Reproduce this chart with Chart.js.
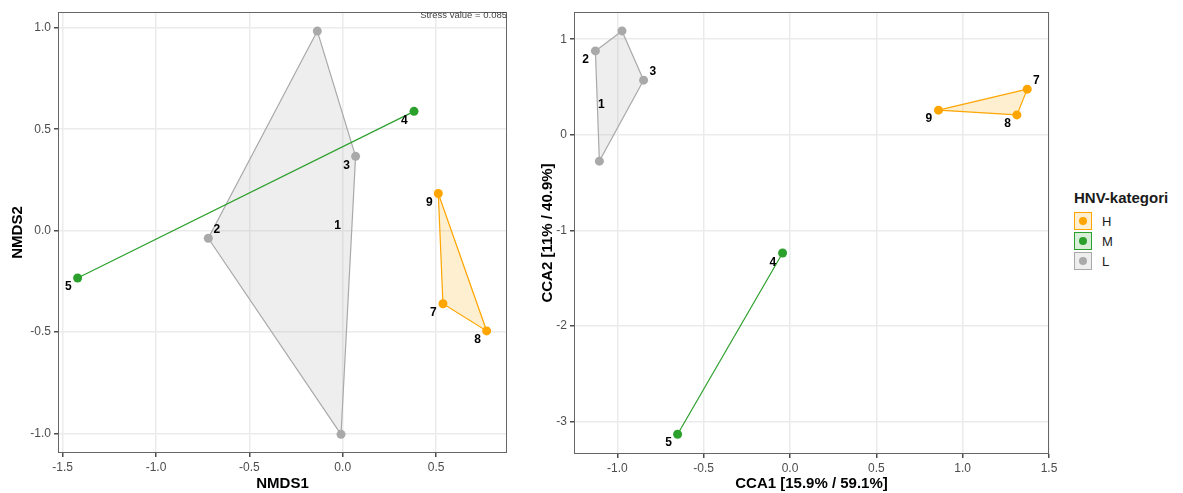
<!DOCTYPE html>
<html><head><meta charset="utf-8">
<script src="https://cdn.jsdelivr.net/npm/chart.js@4"></script>
<style>
body{margin:0;background:#fff;width:1183px;height:493px;overflow:hidden;font-family:"Liberation Sans",Arial,sans-serif;}
#c1wrap{position:absolute;left:0;top:0;width:540px;height:493px;}
#c2wrap{position:absolute;left:535px;top:0;width:530px;height:493px;}
#legend{position:absolute;left:1074px;top:189px;color:#1a1a1a;}
#legend .t{font-weight:bold;font-size:15px;margin-bottom:5px;white-space:nowrap;}
#legend .r{height:20px;display:flex;align-items:center;font-size:13px;}
#legend .k{width:16px;height:16px;border:1px solid;position:relative;margin-right:10px;box-sizing:content-box;}
#legend .k i{position:absolute;left:4px;top:4px;width:8px;height:8px;border-radius:50%;}
</style></head><body>
<div id="c1wrap"><canvas id="c1" width="540" height="493"></canvas></div>
<div id="c2wrap"><canvas id="c2" width="530" height="493"></canvas></div>
<div id="legend"></div>
<script>
// ---- categories ----
const categories = ['H','M','L'];
const legendTitle = 'HNV-kategori';
const colors = {H:'#ffa500', M:'#2ca02c', L:'#a9a9a9'};
const fills  = {H:'rgba(255,165,0,0.18)', M:'rgba(44,160,44,0.18)', L:'rgba(169,169,169,0.2)'};

// ---- NMDS panel (hull order) ----
const nmdsH_x = [0.512, 0.771, 0.537];
const nmdsH_y = [0.183, -0.495, -0.361];
const nmdsM_x = [-1.420, 0.382];
const nmdsM_y = [-0.234, 0.588];
const nmdsL_x = [-0.136, 0.069, -0.009, -0.720];
const nmdsL_y = [0.984, 0.366, -1.005, -0.038];
const nmdsLabels = ['1','2','3','4','5','7','8','9'];
const nmdsLab_x = [-0.027, -0.674, 0.021, 0.330, -1.470, 0.485, 0.723, 0.464];
const nmdsLab_y = [0.023, 0.002, 0.320, 0.543, -0.279, -0.406, -0.540, 0.139];
const nmdsXTicks = [-1.5, -1.0, -0.5, 0.0, 0.5];
const nmdsYTicks = [-1.0, -0.5, 0.0, 0.5, 1.0];
const stressText = 'Stress value = 0.085';

// ---- CCA panel (hull order) ----
const ccaH_x = [0.860, 1.374, 1.314];
const ccaH_y = [0.258, 0.478, 0.209];
const ccaM_x = [-0.651, -0.043];
const ccaM_y = [-3.132, -1.236];
const ccaL_x = [-1.127, -0.973, -0.848, -1.104];
const ccaL_y = [0.878, 1.087, 0.572, -0.275];
const ccaLabels = ['1','2','3','4','5','7','8','9'];
const ccaLab_x = [-1.093, -1.184, -0.794, -0.099, -0.703, 1.426, 1.260, 0.804];
const ccaLab_y = [0.313, 0.784, 0.661, -1.334, -3.221, 0.564, 0.115, 0.167];
const ccaXTicks = [-1.0, -0.5, 0.0, 0.5, 1.0, 1.5];
const ccaYTicks = [-3, -2, -1, 0, 1];

const FONT = '"Liberation Sans", Arial, sans-serif';

function pts(xs, ys){ return xs.map((x,i)=>({x:x, y:ys[i]})); }
function closed(xs, ys){ const p = pts(xs, ys); p.push(p[0]); return p; }

function buildDatasets(H, M, L){
  const ds = [];
  ds.push({data:closed(H[0],H[1]), showLine:true, fill:'shape', backgroundColor:fills.H, borderColor:colors.H, borderWidth:1.2, pointRadius:0, tension:0, order:3});
  ds.push({data:closed(L[0],L[1]), showLine:true, fill:'shape', backgroundColor:fills.L, borderColor:colors.L, borderWidth:1.2, pointRadius:0, tension:0, order:4});
  ds.push({data:pts(M[0],M[1]), showLine:true, fill:false, borderColor:colors.M, borderWidth:1.2, pointRadius:0, tension:0, order:2});
  [['H',H],['M',M],['L',L]].forEach(([k,v])=>{
    ds.push({data:pts(v[0],v[1]), showLine:false, pointRadius:4.5, pointBackgroundColor:colors[k], pointBorderColor:colors[k], pointBorderWidth:0, order:1});
  });
  return ds;
}

const overlay = {
  id:'overlay',
  afterDatasetsDraw(chart, args, o){
    const {ctx, chartArea:a} = chart;
    const x = chart.scales.x, y = chart.scales.y;
    ctx.save();
    ctx.font = 'bold 12px ' + FONT;
    ctx.fillStyle = '#000';
    ctx.textAlign = 'center';
    ctx.textBaseline = 'middle';
    o.labels.forEach((t,i)=>ctx.fillText(t, x.getPixelForValue(o.lx[i]), y.getPixelForValue(o.ly[i])));
    ctx.strokeStyle = '#666';
    ctx.lineWidth = 1;
    ctx.strokeRect(Math.round(a.left)+0.5, Math.round(a.top)+0.5, Math.round(a.right-a.left)-1, Math.round(a.bottom-a.top)-1);
    if (o.note){
      ctx.font = '9.5px ' + FONT;
      ctx.fillStyle = '#444';
      ctx.textAlign = 'right';
      ctx.textBaseline = 'middle';
      ctx.fillText(o.note, a.right, a.top + 3.5);
    }
    ctx.restore();
  }
};

function scaleCfg(min, max, tickArr, fmt, title, isX, fitSize, titlePad){
  return {
    type:'linear', min:min, max:max,
    afterBuildTicks: s => { s.ticks = tickArr.map(v=>({value:v})); },
    afterFit: s => { if(isX) s.height = fitSize; else s.width = fitSize; },
    ticks:{callback:v=>fmt(v), color:'#4d4d4d', font:{size:12, family:FONT}, padding:3, maxRotation:0, autoSkip:false},
    grid:{color:'#ebebeb', lineWidth:1.5, tickColor:'#4d4d4d', tickLength:4, drawTicks:true},
    border:{display:false},
    title:{display:true, text:title, color:'#000', font:{size:15, weight:'bold', family:FONT}, padding: isX ? {top:0,bottom:0} : {top:titlePad,bottom:0}}
  };
}

function makeChart(id, data, xs, ys, pad, ov){
  return new Chart(document.getElementById(id), {
    type:'scatter',
    data:{datasets:data},
    options:{
      responsive:false, animation:false, events:[],
      layout:{padding:pad},
      plugins:{legend:{display:false}, tooltip:{enabled:false}, overlay:ov},
      scales:{x:xs, y:ys}
    },
    plugins:[overlay]
  });
}

const f1 = v => v.toFixed(1);
const f0 = v => String(v);

makeChart('c1',
  buildDatasets([nmdsH_x,nmdsH_y],[nmdsM_x,nmdsM_y],[nmdsL_x,nmdsL_y]),
  scaleCfg(-1.525, 0.88, nmdsXTicks, f1, 'NMDS1', true, 40, 0),
  scaleCfg(-1.097, 1.078, nmdsYTicks, f1, 'NMDS2', false, 58, 9),
  {left:0, top:12, right:33, bottom:0},
  {labels:nmdsLabels, lx:nmdsLab_x, ly:nmdsLab_y, note:stressText});

makeChart('c2',
  buildDatasets([ccaH_x,ccaH_y],[ccaM_x,ccaM_y],[ccaL_x,ccaL_y]),
  scaleCfg(-1.251, 1.5, ccaXTicks, f1, 'CCA1 [15.9% / 59.1%]', true, 39, 0),
  scaleCfg(-3.338, 1.285, ccaYTicks, f0, 'CCA2 [11% / 40.9%]', false, 39, 4),
  {left:0, top:12, right:16, bottom:0},
  {labels:ccaLabels, lx:ccaLab_x, ly:ccaLab_y, note:null});

const lg = document.getElementById('legend');
let html = '<div class="t">' + legendTitle + '</div>';
categories.forEach(c=>{
  html += '<div class="r"><span class="k" style="border-color:'+colors[c]+';background:'+fills[c]+'"><i style="background:'+colors[c]+'"></i></span>'+c+'</div>';
});
lg.innerHTML = html;
</script>
</body></html>
